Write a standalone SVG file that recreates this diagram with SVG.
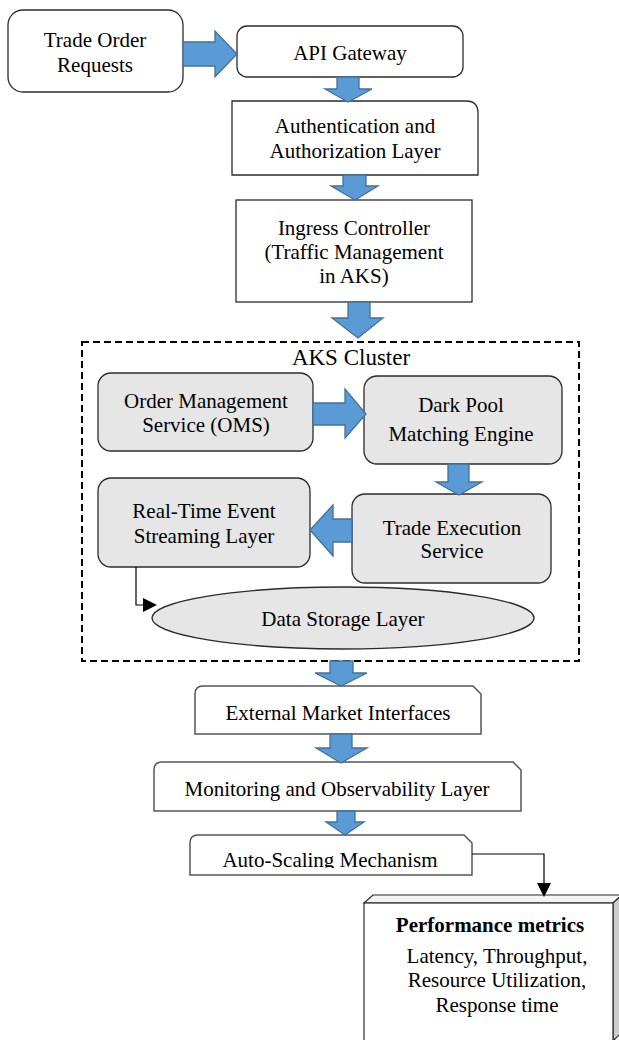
<svg xmlns="http://www.w3.org/2000/svg" width="619" height="1040" viewBox="0 0 619 1040">
<style>
text{font-family:"Liberation Serif","Times New Roman",serif;font-size:21px;fill:#000;text-anchor:middle}
.w{fill:#fff;stroke:#2b2b2b;stroke-width:1.3}
.g{fill:#e6e6e6;stroke:#2b2b2b;stroke-width:1.3}
.s{fill:#fff;stroke:#555;stroke-width:1.5}
.ba{fill:#5b9bd5;stroke:#41719c;stroke-width:1.3}
.ln{fill:none;stroke:#000;stroke-width:1.2}
</style>
<defs>
<clipPath id="clipAuto"><rect x="150" y="830" width="340" height="38"/></clipPath>
</defs>
<rect width="619" height="1040" fill="#fff"/>
<g id="cluster">
<rect x="82" y="342" width="497" height="319" fill="none" stroke="#000" stroke-width="2" stroke-dasharray="7 4"/>
<text x="351" y="365" style="font-size:23px">AKS Cluster</text>
</g>
<g id="trade-order-requests">
<rect class="w" x="8" y="10" width="175" height="82" rx="15"/>
<text x="95" y="47">Trade Order</text>
<text x="95" y="72">Requests</text>
</g>
<g id="api-gateway">
<rect class="w" x="237" y="26" width="226" height="51" rx="10"/>
<text x="350" y="60">API Gateway</text>
</g>
<g id="auth-layer">
<path class="w" d="M232,101 H466 Q478,101 478,113 V175 H232 Z"/>
<text x="355" y="133">Authentication and</text>
<text x="355" y="158">Authorization Layer</text>
</g>
<g id="ingress-controller">
<rect class="w" x="236" y="200" width="236" height="102"/>
<text x="354" y="235">Ingress Controller</text>
<text x="354" y="259">(Traffic Management</text>
<text x="354" y="283">in AKS)</text>
</g>
<g id="oms">
<rect class="g" x="98" y="373" width="215" height="78" rx="13"/>
<text x="206" y="408">Order Management</text>
<text x="206" y="432">Service (OMS)</text>
</g>
<g id="dark-pool">
<rect class="g" x="364" y="376" width="198" height="88" rx="13"/>
<text x="461" y="412">Dark Pool</text>
<text x="461" y="441">Matching Engine</text>
</g>
<g id="trade-execution">
<rect class="g" x="352" y="494" width="199" height="89" rx="13"/>
<text x="452" y="535">Trade Execution</text>
<text x="452" y="558">Service</text>
</g>
<g id="event-streaming">
<rect class="g" x="98" y="478" width="212" height="89" rx="13"/>
<text x="204" y="518">Real-Time Event</text>
<text x="204" y="543">Streaming Layer</text>
</g>
<g id="data-storage">
<ellipse class="g" cx="343" cy="618" rx="191" ry="31"/>
<text x="343" y="626">Data Storage Layer</text>
</g>
<g id="external-market">
<path class="s" d="M195,734 V694 Q195,686 203,686 H473 L481,694 V734 Z"/>
<text x="338" y="720">External Market Interfaces</text>
</g>
<g id="monitoring">
<path class="s" d="M154,811 V770 Q154,762 162,762 H513 L521,770 V811 Z"/>
<text x="337" y="796">Monitoring and Observability Layer</text>
</g>
<g id="auto-scaling">
<path class="s" d="M190,875 V843 Q190,835 198,835 H464 L472,843 V875 Z"/>
<text x="330" y="867" clip-path="url(#clipAuto)">Auto-Scaling Mechanism</text>
</g>
<g id="performance-metrics">
<path d="M364,903 L373,895 H622 L613,903 Z" fill="#f4f4f4" stroke="#2b2b2b" stroke-width="1.2"/>
<path d="M613,903 L622,895 V1032 L613,1041 Z" fill="#cdcdcd" stroke="#2b2b2b" stroke-width="1.2"/>
<rect x="364" y="903" width="249" height="140" fill="#fff" stroke="#2b2b2b" stroke-width="1.2"/>
<text x="490" y="932" style="font-weight:bold">Performance metrics</text>
<text x="497" y="963">Latency, Throughput,</text>
<text x="497" y="987">Resource Utilization,</text>
<text x="497" y="1012">Response time</text>
</g>
<g id="connectors">
<path class="ba" d="M183,42 H215 V31 L237,54 L215,77 V66 H183 Z"/>
<path class="ba" d="M337,77 H359 V89 H372 L348,102 L325,89 H337 Z"/>
<path class="ba" d="M343,175 H366 V186 H378 L355,200 L331,186 H343 Z"/>
<path class="ba" d="M348,302 H370 V318 H383 L358,338 L332,318 H348 Z"/>
<path class="ba" d="M313,403 H345 V389 L366,414 L345,438 V425 H313 Z"/>
<path class="ba" d="M448,464 H469 V482 H482 L459,495 L436,482 H448 Z"/>
<path class="ba" d="M352,519 V542 H333 V556 L310,530 L333,505 V519 Z"/>
<path class="ba" d="M330,661 H353 V673 H367 L341,686 L315,673 H330 Z"/>
<path class="ba" d="M330,734 H352 V748 H367 L341,763 L316,748 H330 Z"/>
<path class="ba" d="M337,811 H355 V822 H364 L345,835 L326,822 H337 Z"/>
<path class="ln" d="M136,567 V605 H143"/>
<polygon points="143,598 143,612 157,605" fill="#000"/>
<path class="ln" d="M472,854 H544 V883"/>
<polygon points="537,883 551,883 544,897" fill="#000"/>
</g>
</svg>
